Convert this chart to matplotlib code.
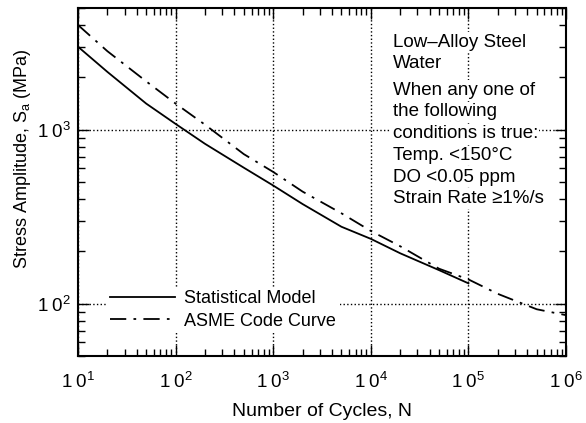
import matplotlib
matplotlib.use("Agg")
import matplotlib.pyplot as plt
from matplotlib.ticker import FuncFormatter
import numpy as np

plt.rcParams['font.family'] = ['Liberation Sans', 'DejaVu Sans']
plt.rcParams['mathtext.fontset'] = 'custom'
plt.rcParams['mathtext.rm'] = 'Liberation Sans'
plt.rcParams['mathtext.it'] = 'Liberation Sans:italic'

# Statistical model
n_stat = [10, 20, 50, 100, 200, 500, 1000, 2000, 5000, 1e4, 2e4, 5e4, 1e5]
s_stat = [3000, 2150, 1413, 1080, 830, 605, 478, 374, 277, 236, 195, 156, 131]

# ASME code design curve
n_asme = [10, 20, 50, 100, 200, 500, 1000, 2000, 5000, 1e4, 2e4, 5e4, 1e5, 2e5, 5e5, 1e6]
s_asme = [3999, 2827, 1896, 1413, 1069, 724, 572, 441, 331, 262, 214, 159, 138, 114, 93, 86]

note_lines = ["Low\u2013Alloy Steel", "Water",
              "When any one of", "the following", "conditions is true:",
              "Temp. <150\u00b0C", "DO <0.05 ppm", "Strain Rate \u22651%/s"]

fig = plt.figure(figsize=(5.86, 4.23), dpi=100)
ax = fig.add_axes([0.133, 0.158, 0.833, 0.823])

ax.plot(n_stat, s_stat, color='black', lw=1.3, label='Statistical Model')
ax.plot(n_asme, s_asme, color='black', lw=1.3, linestyle=(0, (9, 4, 1.5, 4)),
        label='ASME Code Curve')

ax.set_xscale('log')
ax.set_yscale('log')
ax.set_xlim(10, 1e6)
ax.set_ylim(50, 5000)
ax.set_yticks([100, 1000])

def pow_fmt(v, pos):
    e = int(round(np.log10(v)))
    return r'$\mathregular{1\;0^{%d}}$' % e

ax.xaxis.set_major_formatter(FuncFormatter(pow_fmt))
ax.yaxis.set_major_formatter(FuncFormatter(pow_fmt))

ax.grid(True, which='major', color='black', linestyle=':', lw=1.0)
ax.tick_params(which='both', direction='in', top=True, right=True, width=1.0)
ax.tick_params(which='major', length=8, labelsize=13.5)
ax.tick_params(axis='x', which='major', pad=11)
ax.tick_params(axis='y', which='major', pad=5)
ax.tick_params(which='minor', length=5)
for sp in ax.spines.values():
    sp.set_linewidth(1.5)

ax.set_xlabel('Number of Cycles, N', fontsize=14, labelpad=8)
ax.set_ylabel('Stress Amplitude, S$_\\mathrm{a}$ (MPa)', fontsize=13, labelpad=2)
ax.yaxis.set_label_coords(-0.092, 0.566)

leg = ax.legend(loc='lower left', bbox_to_anchor=(0.04, 0.04), fontsize=13,
                frameon=True, fancybox=False, edgecolor='none', facecolor='white',
                framealpha=1, handlelength=3.6, handletextpad=0.5,
                borderpad=0.2, labelspacing=0.3)

y = 0.902
for i, line in enumerate(note_lines):
    ax.text(0.645, y, line, transform=ax.transAxes, fontsize=13.5, va='center',
            ha='left', bbox=dict(facecolor='white', edgecolor='none', pad=1.0))
    y -= 0.0625
    if i == 1:
        y -= 0.013

fig.savefig('out.png', dpi=100)
